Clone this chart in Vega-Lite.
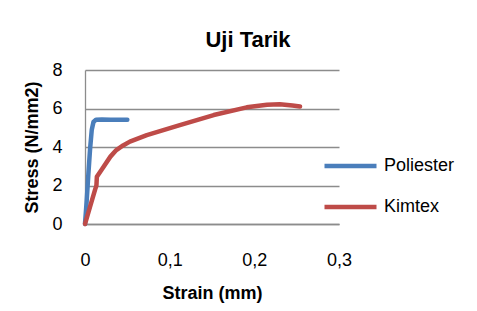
{
  "$schema": "https://vega.github.io/schema/vega-lite/v6.json",
  "width": 254,
  "height": 154,
  "autosize": {"type": "none"},
  "padding": {"left": 85, "top": 70, "right": 138, "bottom": 87},
  "background": "white",
  "title": {"text": "Uji Tarik", "font": "Liberation Sans", "fontSize": 22, "fontWeight": "bold", "color": "black", "anchor": "middle", "frame": "group", "dx": 36, "offset": -8, "baseline": "alphabetic"},
  "data": {"values": [
    {"s": "Poliester", "x": 0, "y": 0},
    {"s": "Poliester", "x": 0.002, "y": 1.2},
    {"s": "Poliester", "x": 0.004, "y": 2.6},
    {"s": "Poliester", "x": 0.006, "y": 3.9},
    {"s": "Poliester", "x": 0.008, "y": 4.9},
    {"s": "Poliester", "x": 0.010, "y": 5.3},
    {"s": "Poliester", "x": 0.013, "y": 5.42},
    {"s": "Poliester", "x": 0.02, "y": 5.43},
    {"s": "Poliester", "x": 0.03, "y": 5.42},
    {"s": "Poliester", "x": 0.04, "y": 5.42},
    {"s": "Poliester", "x": 0.05, "y": 5.42},
    {"s": "Kimtex", "x": 0, "y": 0},
    {"s": "Kimtex", "x": 0.006, "y": 0.9},
    {"s": "Kimtex", "x": 0.012, "y": 1.8},
    {"s": "Kimtex", "x": 0.0135, "y": 2.0},
    {"s": "Kimtex", "x": 0.014, "y": 2.45},
    {"s": "Kimtex", "x": 0.02, "y": 2.85},
    {"s": "Kimtex", "x": 0.03, "y": 3.5},
    {"s": "Kimtex", "x": 0.037, "y": 3.84},
    {"s": "Kimtex", "x": 0.045, "y": 4.08},
    {"s": "Kimtex", "x": 0.053, "y": 4.28},
    {"s": "Kimtex", "x": 0.073, "y": 4.62},
    {"s": "Kimtex", "x": 0.112, "y": 5.14},
    {"s": "Kimtex", "x": 0.152, "y": 5.66},
    {"s": "Kimtex", "x": 0.191, "y": 6.06},
    {"s": "Kimtex", "x": 0.215, "y": 6.2},
    {"s": "Kimtex", "x": 0.23, "y": 6.22},
    {"s": "Kimtex", "x": 0.245, "y": 6.15},
    {"s": "Kimtex", "x": 0.254, "y": 6.1}
  ]},
  "mark": {"type": "line", "strokeWidth": 4.5, "strokeCap": "round", "strokeJoin": "round"},
  "encoding": {
    "x": {"field": "x", "type": "quantitative", "scale": {"domain": [0, 0.3], "nice": false},
      "axis": {"values": [0, 0.1, 0.2, 0.3], "labelExpr": "replace(format(datum.value, '.1~f'), '.', ',')", "labelFlush": false, "labelOverlap": false, "grid": false, "tickSize": 0, "labelPadding": 27, "domainColor": "#8c8c8c", "domainWidth": 1.3, "title": "Strain (mm)", "titlePadding": 15}},
    "y": {"field": "y", "type": "quantitative", "scale": {"domain": [0, 8], "nice": false},
      "axis": {"values": [0, 2, 4, 6, 8], "labelFlush": false, "grid": true, "gridColor": "#8c8c8c", "gridWidth": 1.3, "tickSize": 0, "labelPadding": 23, "domainColor": "#8c8c8c", "domainWidth": 1.3, "title": "Stress (N/mm2)", "titlePadding": 10}},
    "color": {"field": "s", "type": "nominal", "scale": {"domain": ["Poliester", "Kimtex"], "range": ["#4a7ebb", "#be4b48"]},
      "legend": {"title": null, "orient": "none", "legendX": 237, "legendY": 78, "symbolType": "stroke", "symbolSize": 2704, "symbolStrokeWidth": 4.5, "clipHeight": 36, "rowPadding": 5, "labelOffset": 5, "padding": 0, "labelFont": "Liberation Sans", "labelFontSize": 18, "labelColor": "black"}}
  },
  "config": {
    "view": {"stroke": null},
    "axis": {"labelFont": "Liberation Sans", "labelFontSize": 18, "labelColor": "black", "titleFont": "Liberation Sans", "titleFontSize": 18, "titleFontWeight": "bold", "titleColor": "black"}
  }
}
